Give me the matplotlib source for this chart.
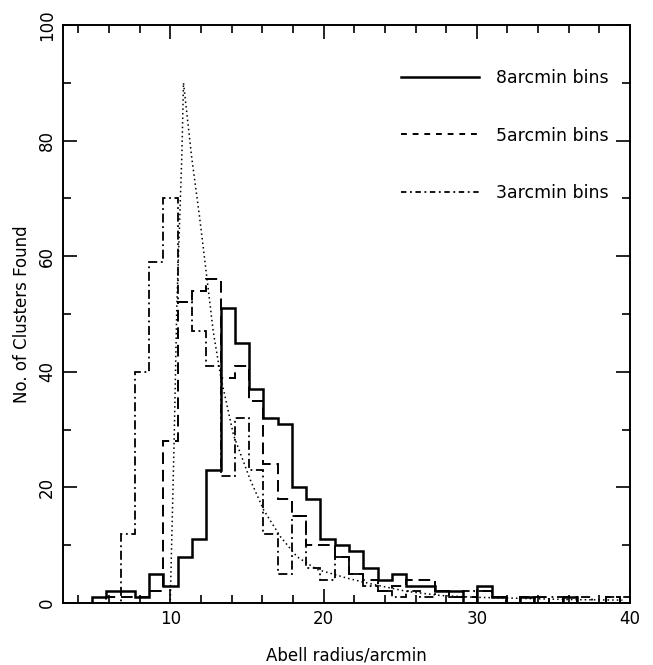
import numpy as np
import matplotlib
matplotlib.use("Agg")
import matplotlib.pyplot as plt
from matplotlib.ticker import MultipleLocator
from matplotlib.lines import Line2D

# bins shared by all three histograms (Abell radius, arcmin)
bin_start = 4.9
bin_width = 0.931
n_bins = 38

counts_8 = [1, 2, 2, 1, 5, 3, 8, 11, 23, 51, 45, 37, 32, 31, 20, 18, 11, 10, 9, 6,
            4, 5, 3, 3, 2, 2, 0, 3, 1, 0, 1, 0, 0, 1, 0, 0, 0, 0]
counts_5 = [0, 1, 1, 1, 2, 28, 52, 54, 56, 39, 41, 35, 24, 18, 15, 10, 10, 8, 5, 4,
            2, 3, 4, 4, 2, 1, 1, 2, 1, 0, 1, 1, 0, 1, 0, 0, 1, 0]
counts_3 = [0, 0, 12, 40, 59, 70, 52, 47, 41, 22, 32, 23, 12, 5, 15, 6, 4, 8, 5, 3,
            2, 1, 2, 1, 2, 1, 2, 2, 1, 0, 1, 0, 1, 0, 1, 0, 1, 1]

# expected distribution (dotted curve)
model_x = [10.0, 10.25, 10.43, 10.76, 10.86, 11.4, 11.9, 12.4, 12.8, 13.3,
           14.13, 15.22, 16.09, 17.18, 18.27, 19.58, 21.54, 23.28, 25.46, 27.64,
           29.8, 33.0, 36.0, 39.5]
model_y = [0.5, 28, 52, 78, 90, 77, 67, 56, 47, 39, 29, 21.3, 16.1, 11.5,
           8.0, 5.8, 4.3, 3.2, 2.0, 1.3, 1.0, 0.8, 0.6, 0.5]

labels = ["8arcmin bins", "5arcmin bins", "3arcmin bins"]

edges = bin_start + bin_width * np.arange(n_bins + 1)

fig = plt.figure(figsize=(6.53, 6.65), dpi=100)
ax = fig.add_axes([0.0965, 0.0932, 0.8684, 0.8692])

ax.stairs(counts_8, edges, color="black", lw=1.8, linestyle="-")
ax.stairs(counts_5, edges, color="black", lw=1.4, linestyle=(0, (6, 3)))
ax.stairs(counts_3, edges, color="black", lw=1.3, linestyle=(0, (5, 2, 1, 2)))
ax.plot(model_x, model_y, color="black", lw=1.1, linestyle=(0, (1, 2)))

ax.set_xlim(3, 40)
ax.set_ylim(0, 100)

ax.xaxis.set_major_locator(MultipleLocator(10))
ax.xaxis.set_minor_locator(MultipleLocator(2))
ax.yaxis.set_major_locator(MultipleLocator(20))
ax.yaxis.set_minor_locator(MultipleLocator(10))
ax.tick_params(which="both", direction="in", top=True, right=True, width=1.2)
ax.tick_params(which="major", length=10)
ax.tick_params(which="minor", length=6)
ax.tick_params(axis="x", which="major", labelsize=12, pad=5)
ax.tick_params(axis="y", which="major", labelsize=12, pad=5, labelrotation=90)
for lab in ax.get_yticklabels():
    lab.set_va("center")

for sp in ax.spines.values():
    sp.set_linewidth(1.4)

ax.set_xlabel("Abell radius/arcmin", fontsize=12, labelpad=13)
ax.set_ylabel("No. of Clusters Found", fontsize=12, labelpad=5)

handles = [Line2D([], [], color="black", lw=1.8, linestyle="-"),
           Line2D([], [], color="black", lw=1.4, linestyle=(0, (3, 3))),
           Line2D([], [], color="black", lw=1.3, linestyle=(0, (3, 2, 1, 2)))]
ax.legend(handles, labels, loc="upper left", bbox_to_anchor=(0.596, 0.924),
          frameon=False, fontsize=12.5, handlelength=4.5, handletextpad=1.0,
          labelspacing=2.28, borderpad=0, borderaxespad=0)

fig.savefig("out.png", dpi=100)
